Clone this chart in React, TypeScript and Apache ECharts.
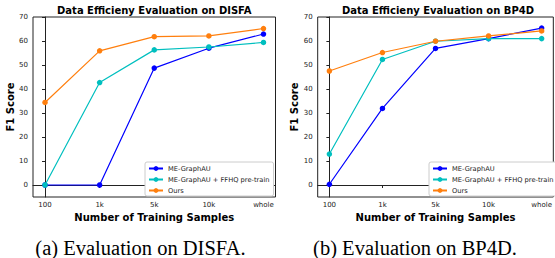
import React, { useEffect, useRef } from "react";
import * as echarts from "echarts";

const xLabels = ["100", "1k", "5k", "10k", "whole"];
const yTicks = [0, 10, 20, 30, 40, 50, 60, 70];
const seriesNames = ["ME-GraphAU", "ME-GraphAU + FFHQ pre-train", "Ours"];
const seriesColors = ["#0000ff", "#00bfbf", "#ff7f0e"];

const disfaGraphAU = [0, 0, 48.7, 57.0, 62.9];
const disfaFFHQ = [0, 42.7, 56.3, 57.5, 59.4];
const disfaOurs = [34.4, 55.9, 61.8, 62.1, 65.2];

const bp4dGraphAU = [0.3, 31.9, 56.9, 61.0, 65.4];
const bp4dFFHQ = [12.9, 52.3, 59.9, 61.0, 61.0];
const bp4dOurs = [47.5, 55.2, 59.9, 62.1, 64.2];

const titles = ["Data Efficieny Evaluation on DISFA", "Data Efficieny Evaluation on BP4D"];
const captions = ["(a) Evaluation on DISFA.", "(b) Evaluation on BP4D."];

const FONT = "DejaVu Sans";
const INK = "#222";

export default function App() {
  const ref = useRef<HTMLDivElement>(null);
  useEffect(() => {
    if (!ref.current) return;
    const chart = echarts.init(ref.current, undefined, { renderer: "svg" });
    const grids = [
      { left: 33, top: 17, width: 242.5, height: 180 },
      { left: 317.7, top: 17, width: 242.5, height: 180 },
    ];
    const xIdx = xLabels.map((_, i) => i);
    const mkX = (gi: number) => ({
      type: "value",
      gridIndex: gi,
      min: -0.22,
      max: 4.22,
      name: "Number of Training Samples",
      nameLocation: "middle",
      nameGap: 13,
      nameTextStyle: { fontFamily: FONT, fontWeight: "bold", fontSize: 10, color: "#000" },
      axisLine: { show: true, lineStyle: { color: INK, width: 1 } },
      axisTick: { show: true, customValues: xIdx, length: 3, lineStyle: { color: INK } },
      axisLabel: {
        customValues: xIdx,
        formatter: (v: number) => xLabels[Math.round(v)] ?? "",
        fontFamily: FONT,
        fontSize: 7,
        color: INK,
        margin: 4,
      },
      splitLine: { show: false },
    });
    const mkY = (gi: number) => ({
      type: "value",
      gridIndex: gi,
      min: -5,
      max: 70,
      name: "F1 Score",
      nameLocation: "middle",
      nameGap: 15.5,
      nameTextStyle: { fontFamily: FONT, fontWeight: "bold", fontSize: 10, color: "#000" },
      axisLine: { show: true, lineStyle: { color: INK, width: 1 } },
      axisTick: { show: true, customValues: yTicks, length: 3, lineStyle: { color: INK } },
      axisLabel: { customValues: yTicks, fontFamily: FONT, fontSize: 7, color: INK, margin: 5 },
      splitLine: { show: false },
    });
    const groups = [
      [disfaGraphAU, disfaFFHQ, disfaOurs],
      [bp4dGraphAU, bp4dFFHQ, bp4dOurs],
    ];
    const series: any[] = [];
    groups.forEach((g, gi) => {
      g.forEach((vals, si) => {
        series.push({
          type: "line",
          name: seriesNames[si],
          xAxisIndex: gi,
          yAxisIndex: gi,
          data: vals.map((v, i) => [i, v]),
          symbol: "circle",
          symbolSize: 5.5,
          lineStyle: { color: seriesColors[si], width: 1.2 },
          itemStyle: { color: seriesColors[si] },
          z: 2 + si,
        });
      });
    });
    const mkLegend = (left: number) => ({
      orient: "vertical",
      left,
      top: 162,
      data: seriesNames,
      itemWidth: 14,
      itemHeight: 6,
      itemGap: 4,
      padding: [3, 4, 2, 3],
      backgroundColor: "#fff",
      borderColor: "#ccc",
      borderWidth: 1,
      borderRadius: 2,
      selectedMode: false,
      textStyle: { fontFamily: FONT, fontSize: 6.7, color: INK },
    });
    const option: any = {
      animation: false,
      grid: grids.map((g) => ({ ...g, show: true, borderColor: INK, borderWidth: 1, backgroundColor: "transparent", containLabel: false })),
      xAxis: [mkX(0), mkX(1)],
      yAxis: [mkY(0), mkY(1)],
      legend: [mkLegend(145), mkLegend(429)],
      series,
      graphic: [
        { type: "text", x: 154.3, y: 10, style: { text: titles[0], fontFamily: FONT, fontWeight: "bold", fontSize: 10, fill: "#000", textAlign: "center", textVerticalAlign: "middle" } },
        { type: "text", x: 438, y: 10, style: { text: titles[1], fontFamily: FONT, fontWeight: "bold", fontSize: 10, fill: "#000", textAlign: "center", textVerticalAlign: "middle" } },
        { type: "text", x: 140.5, y: 248, style: { text: captions[0], fontFamily: "Liberation Serif", fontSize: 20.5, fill: "#000", textAlign: "center", textVerticalAlign: "middle" } },
        { type: "text", x: 415, y: 248, style: { text: captions[1], fontFamily: "Liberation Serif", fontSize: 20.5, fill: "#000", textAlign: "center", textVerticalAlign: "middle" } },
      ],
    };
    chart.setOption(option);
    return () => chart.dispose();
  }, []);
  return <div ref={ref} style={{ position: "absolute", left: 0, top: 0, width: 555, height: 258, background: "#fff" }} />;
}
